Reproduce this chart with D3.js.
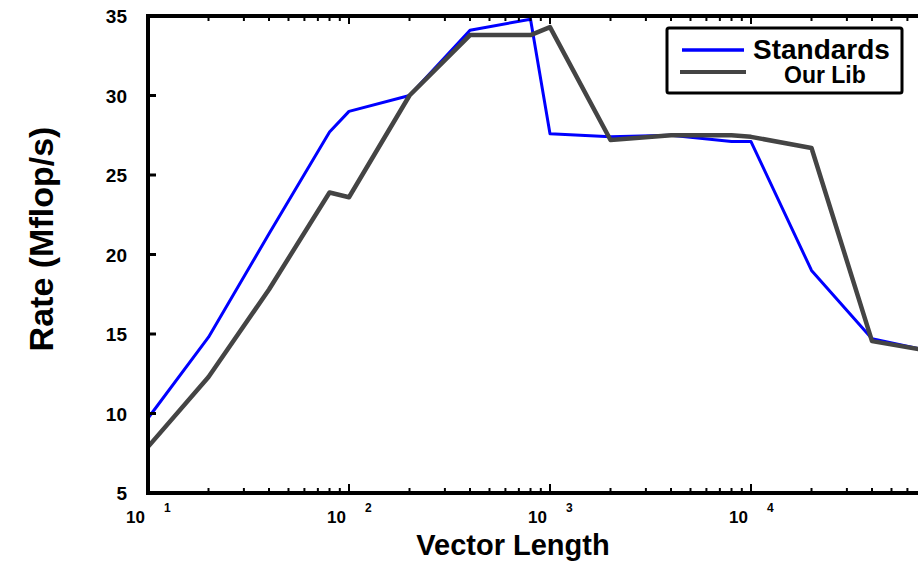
<!DOCTYPE html>
<html>
<head>
<meta charset="utf-8">
<script src="https://cdn.jsdelivr.net/npm/d3@7"></script>
<style>
  body { margin: 0; background: #fff; }
  svg { display: block; font-family: "Liberation Sans", Arial, sans-serif; font-weight: bold; }
</style>
</head>
<body>
<div id="chart"></div>
<script>
const vectorLengths = [10, 20, 40, 80, 100, 200, 400, 800, 1000, 2000, 4000, 8000, 10000, 20000, 40000, 80000];
const standardsRate = [9.7, 14.8, 21.3, 27.7, 29.0, 30.0, 34.1, 34.8, 27.6, 27.4, 27.5, 27.1, 27.1, 19.0, 14.7, 13.9];
const ourLibRate = [7.9, 12.3, 17.8, 23.9, 23.6, 30.0, 33.8, 33.8, 34.3, 27.2, 27.5, 27.5, 27.4, 26.7, 14.55, 13.9];
const yTicks = [5, 10, 15, 20, 25, 30, 35];
const xDecades = [1, 2, 3, 4];
const seriesNames = ["Standards", "Our Lib"];

document.addEventListener("DOMContentLoaded", function () {
  const width = 918;
  const height = 565;

  const svg = d3
    .select("#chart")
    .append("svg")
    .attr("width", width)
    .attr("height", height);

  const x = d3.scaleLog().domain([10, 1e5]).range([148, 952]);
  const y = d3.scaleLinear().domain([5, 35]).range([493, 16]);

  // lines
  const line = d3
    .line()
    .x((d) => x(d[0]))
    .y((d) => y(d[1]));

  const series = [
    { name: seriesNames[0], values: d3.zip(vectorLengths, standardsRate), color: "#0000ff", w: 3 },
    { name: seriesNames[1], values: d3.zip(vectorLengths, ourLibRate), color: "#444444", w: 4.5 },
  ];

  svg
    .selectAll("path.series")
    .data(series)
    .enter()
    .append("path")
    .attr("class", "series")
    .attr("fill", "none")
    .attr("stroke", (d) => d.color)
    .attr("stroke-width", (d) => d.w)
    .attr("stroke-linejoin", "round")
    .attr("d", (d) => line(d.values));

  // minor ticks on top and bottom
  const minor = [];
  for (let e = 1; e < 5; e++) {
    for (let m = 1; m < 10; m++) minor.push(m * Math.pow(10, e));
  }
  const isMajor = (v) => Math.abs(Math.log10(v) - Math.round(Math.log10(v))) < 1e-9;

  svg
    .selectAll("line.tickb")
    .data(minor)
    .enter()
    .append("line")
    .attr("x1", (d) => x(d))
    .attr("x2", (d) => x(d))
    .attr("y1", y(5))
    .attr("y2", (d) => y(5) - (isMajor(d) ? 9 : 5))
    .attr("stroke", "#000")
    .attr("stroke-width", 2);

  svg
    .selectAll("line.tickt")
    .data(minor)
    .enter()
    .append("line")
    .attr("x1", (d) => x(d))
    .attr("x2", (d) => x(d))
    .attr("y1", y(35))
    .attr("y2", (d) => y(35) + (isMajor(d) ? 8 : 5))
    .attr("stroke", "#000")
    .attr("stroke-width", 2);

  // y ticks
  svg
    .selectAll("line.ytick")
    .data(yTicks.slice(1, -1))
    .enter()
    .append("line")
    .attr("x1", x(10))
    .attr("x2", x(10) + 8)
    .attr("y1", (d) => y(d))
    .attr("y2", (d) => y(d))
    .attr("stroke", "#000")
    .attr("stroke-width", 3);

  // axis frame
  svg.append("line")
    .attr("x1", x(10)).attr("x2", width)
    .attr("y1", y(5)).attr("y2", y(5))
    .attr("stroke", "#000").attr("stroke-width", 4);
  svg.append("line")
    .attr("x1", x(10) - 2).attr("x2", width)
    .attr("y1", y(35)).attr("y2", y(35))
    .attr("stroke", "#000").attr("stroke-width", 4);
  svg.append("line")
    .attr("x1", x(10)).attr("x2", x(10))
    .attr("y1", y(35) - 2).attr("y2", y(5) + 2)
    .attr("stroke", "#000").attr("stroke-width", 4);

  // y labels
  svg
    .selectAll("text.ylab")
    .data(yTicks)
    .enter()
    .append("text")
    .attr("x", 127)
    .attr("y", (d) => y(d) + 7)
    .attr("text-anchor", "end")
    .style("font-size", "19px")
    .text((d) => d);

  // x labels: 10 with superscript exponent
  const xl = svg
    .selectAll("g.xlab")
    .data(xDecades)
    .enter()
    .append("g")
    .attr("transform", (d) => `translate(${x(Math.pow(10, d))},0)`);
  xl.append("text")
    .attr("x", -3)
    .attr("y", 523)
    .attr("text-anchor", "end")
    .style("font-size", "17px")
    .text("10");
  xl.append("text")
    .attr("x", 16)
    .attr("y", 512)
    .style("font-size", "12px")
    .text((d) => d);

  // axis titles
  svg.append("text")
    .attr("x", 513)
    .attr("y", 555)
    .attr("text-anchor", "middle")
    .style("font-size", "29px")
    .text("Vector Length");

  svg.append("text")
    .attr("transform", "translate(53,239) rotate(-90)")
    .attr("text-anchor", "middle")
    .style("font-size", "34px")
    .text("Rate (Mflop/s)");

  // legend
  const legend = svg.append("g");
  legend.append("rect")
    .attr("x", 667).attr("y", 28)
    .attr("width", 235).attr("height", 65)
    .attr("rx", 2)
    .attr("fill", "#fff")
    .attr("stroke", "#000")
    .attr("stroke-width", 3);
  legend.append("line")
    .attr("x1", 682).attr("x2", 744).attr("y1", 50).attr("y2", 50)
    .attr("stroke", series[0].color).attr("stroke-width", 3.5);
  legend.append("line")
    .attr("x1", 680).attr("x2", 746).attr("y1", 72).attr("y2", 72)
    .attr("stroke", series[1].color).attr("stroke-width", 4);
  legend.append("text")
    .attr("x", 753).attr("y", 59)
    .style("font-size", "28px")
    .text(seriesNames[0]);
  legend.append("text")
    .attr("x", 784).attr("y", 83)
    .style("font-size", "23px")
    .text(seriesNames[1]);
});
</script>
</body>
</html>
